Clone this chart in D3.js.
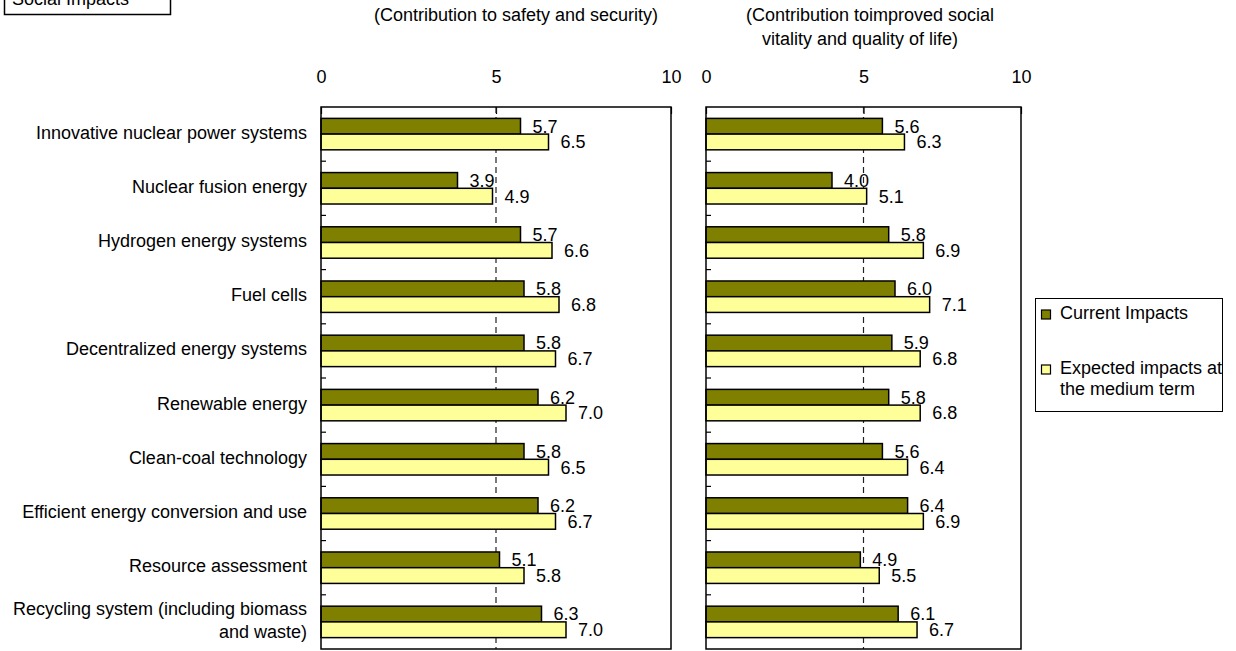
<!DOCTYPE html>
<html>
<head>
<meta charset="utf-8">
<script src="https://cdn.jsdelivr.net/npm/d3@7"></script>
<style>
  body { margin: 0; background: #fff; }
  svg { display: block; font-family: "Liberation Sans", Arial, sans-serif; }
  text { fill: #000; }
</style>
</head>
<body>
<svg id="chart" width="1236" height="651"></svg>
<script>
const categories = [
  ["Innovative nuclear power systems"],
  ["Nuclear fusion energy"],
  ["Hydrogen energy systems"],
  ["Fuel cells"],
  ["Decentralized energy systems"],
  ["Renewable energy"],
  ["Clean-coal technology"],
  ["Efficient energy conversion and use"],
  ["Resource assessment"],
  ["Recycling system (including biomass", "and waste)"]
];

const safetyCurrent = [5.7, 3.9, 5.7, 5.8, 5.8, 6.2, 5.8, 6.2, 5.1, 6.3];
const safetyExpected = [6.5, 4.9, 6.6, 6.8, 6.7, 7.0, 6.5, 6.7, 5.8, 7.0];
const vitalityCurrent = [5.6, 4.0, 5.8, 6.0, 5.9, 5.8, 5.6, 6.4, 4.9, 6.1];
const vitalityExpected = [6.3, 5.1, 6.9, 7.1, 6.8, 6.8, 6.4, 6.9, 5.5, 6.7];

const seriesNames = ["Current Impacts", "Expected impacts at the medium term"];
const seriesColors = ["#808000", "#ffff99"];
const tickValues = [0, 5, 10];

const svg = d3.select("#chart");
const fontSize = 18;
const plotTop = 107;
const plotBottom = 649;

const yScale = d3
  .scaleBand()
  .domain(d3.range(categories.length))
  .range([plotTop, plotBottom])
  .paddingInner(0.42)
  .paddingOuter(0.21);

const sub = d3
  .scaleBand()
  .domain([0, 1])
  .range([0, yScale.bandwidth()]);

const fmt = d3.format(".1f");

// title box, partly cut off at the top
svg.append("rect")
  .attr("x", 4.5).attr("y", -20).attr("width", 166).attr("height", 34.5)
  .attr("fill", "#fff").attr("stroke", "#000").attr("stroke-width", 1.5);
svg.append("text")
  .attr("x", 12).attr("y", 4.5)
  .attr("font-size", fontSize)
  .text("Social Impacts");

// category labels
const labels = svg.append("g").attr("font-size", fontSize).attr("text-anchor", "end");
categories.forEach((lines, i) => {
  const cy = yScale(i) + yScale.bandwidth() / 2;
  const t = labels.append("text").attr("x", 307);
  lines.forEach((line, j) => {
    t.append("tspan")
      .attr("x", 307)
      .attr("y", cy + 4.5 + (j - (lines.length - 1) / 2) * 23)
      .text(line);
  });
});

function drawPanel(x0, x1, current, expected, header) {
  const xScale = d3.scaleLinear().domain([0, 10]).range([x0, x1]);
  const g = svg.append("g");

  // header
  header.lines.forEach((line, j) => {
    g.append("text")
      .attr("x", header.x[j])
      .attr("y", 21 + j * 24)
      .attr("text-anchor", "middle")
      .attr("font-size", fontSize)
      .text(line);
  });

  // tick labels on top
  const axis = d3.axisTop(xScale).tickValues(tickValues).tickSizeInner(-7).tickSizeOuter(0).tickPadding(24);
  const ax = g.append("g").attr("transform", `translate(0, ${plotTop})`).call(axis);
  ax.select(".domain").remove();
  ax.selectAll("text").attr("font-size", fontSize).attr("font-family", "Liberation Sans, Arial, sans-serif").attr("fill", "#000");
  ax.selectAll("line").attr("stroke", "#000").attr("stroke-width", 1.2);

  // dashed gridline at 5
  g.append("line")
    .attr("x1", xScale(5)).attr("x2", xScale(5))
    .attr("y1", plotTop).attr("y2", plotBottom)
    .attr("stroke", "#222").attr("stroke-width", 1.2)
    .attr("stroke-dasharray", "6,4");

  // left ticks between categories
  const step = yScale.step();
  g.selectAll(".cattick")
    .data(d3.range(1, categories.length))
    .enter()
    .append("line")
    .attr("x1", x0).attr("x2", x0 + 5)
    .attr("y1", (d) => yScale(d) - (step - yScale.bandwidth()) / 2)
    .attr("y2", (d) => yScale(d) - (step - yScale.bandwidth()) / 2)
    .attr("stroke", "#000").attr("stroke-width", 1.2);

  const series = [current, expected];
  series.forEach((values, s) => {
    g.selectAll(".bar" + s)
      .data(values)
      .enter()
      .append("rect")
      .attr("x", xScale(0))
      .attr("y", (d, i) => yScale(i) + sub(s))
      .attr("width", (d) => xScale(d) - xScale(0))
      .attr("height", sub.bandwidth())
      .attr("fill", seriesColors[s])
      .attr("stroke", "#000")
      .attr("stroke-width", 1.5);

    g.selectAll(".val" + s)
      .data(values)
      .enter()
      .append("text")
      .attr("x", (d) => xScale(d) + 12)
      .attr("y", (d, i) => yScale(i) + sub(s) + sub.bandwidth() - 1.5)
      .attr("font-size", fontSize)
      .text((d) => fmt(d));
  });

  // frame
  g.append("rect")
    .attr("x", x0).attr("y", plotTop)
    .attr("width", x1 - x0).attr("height", plotBottom - plotTop)
    .attr("fill", "none").attr("stroke", "#000").attr("stroke-width", 1.5);
}

drawPanel(321, 671, safetyCurrent, safetyExpected, {
  lines: ["(Contribution to safety and security)"],
  x: [516]
});

drawPanel(706, 1021, vitalityCurrent, vitalityExpected, {
  lines: ["(Contribution toimproved social", "vitality and quality of life)"],
  x: [870, 860]
});

// legend
const legend = svg.append("g").attr("font-size", fontSize);
legend.append("rect")
  .attr("x", 1035.5).attr("y", 298.5).attr("width", 187).attr("height", 113)
  .attr("fill", "#fff").attr("stroke", "#000").attr("stroke-width", 1);

const legendLines = [["Current Impacts"], ["Expected impacts at", "the medium term"]];
seriesNames.forEach((name, i) => {
  const y = 310 + i * 55;
  legend.append("rect")
    .attr("x", 1041.5).attr("y", y).attr("width", 9).attr("height", 9)
    .attr("fill", seriesColors[i]).attr("stroke", "#000").attr("stroke-width", 1.2);
  legendLines[i].forEach((line, j) => {
    legend.append("text")
      .attr("x", 1060)
      .attr("y", y + 9 + j * 21)
      .text(line);
  });
});
</script>
</body>
</html>
